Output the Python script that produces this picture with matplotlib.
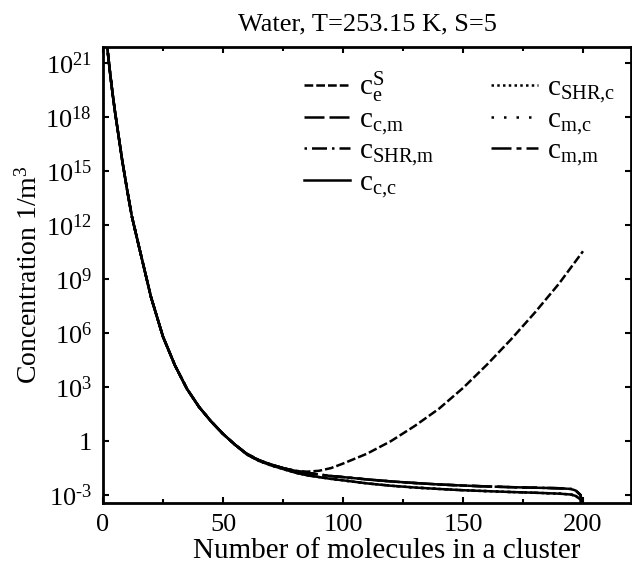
import matplotlib
matplotlib.use("Agg")
import matplotlib.pyplot as plt
import numpy as np
from matplotlib.ticker import FixedLocator, MultipleLocator, FixedFormatter

plt.rcParams['font.family'] = ['Liberation Serif', 'DejaVu Serif']
plt.rcParams['mathtext.fontset'] = 'custom'
plt.rcParams['mathtext.rm'] = 'Liberation Serif'
plt.rcParams['mathtext.it'] = 'Liberation Serif:italic'
plt.rcParams['mathtext.bf'] = 'Liberation Serif:bold'

# ---- data (log10 of concentration) ----
# shared part of all distributions (small clusters)
n_common = [1, 2, 3, 4, 5, 6, 8, 10, 12, 15, 20, 25, 30, 35, 40, 45, 50, 55]
log_common = [23.5, 21.6, 20.4, 19.3, 18.3, 17.4, 15.6, 14.0, 12.5, 10.8,
              8.0, 5.8, 4.2, 2.9, 1.9, 1.1, 0.4, -0.2]

# equilibrium distribution tail
n_eq = [60, 65, 70, 75, 80, 85, 90, 95, 100, 110, 120, 130, 140, 150,
        160, 170, 180, 190, 200]
log_ce = [-0.7, -1.05, -1.3, -1.5, -1.65, -1.7, -1.65, -1.5, -1.25, -0.7,
          0.0, 0.85, 1.8, 2.95, 4.25, 5.65, 7.15, 8.75, 10.55]

# steady-state distributions tail
n_ss = [60, 65, 70, 75, 80, 85, 90, 95, 100, 110, 120, 130, 140, 150,
        160, 170, 180, 190, 195, 197, 199, 200]
log_c_cm = [-0.72, -1.07, -1.3, -1.5, -1.65, -1.76, -1.86, -1.94, -2.0, -2.13,
            -2.24, -2.33, -2.41, -2.47, -2.52, -2.56, -2.59, -2.62, -2.66,
            -2.75, -3.0, -4.0]
log_c_shrm = [-0.72, -1.07, -1.3, -1.5, -1.65, -1.76, -1.86, -1.94, -2.0, -2.13,
              -2.24, -2.33, -2.41, -2.47, -2.52, -2.56, -2.59, -2.62, -2.66,
              -2.75, -3.0, -4.0]
log_c_mm = [-0.72, -1.07, -1.3, -1.5, -1.65, -1.76, -1.86, -1.94, -2.0, -2.13,
            -2.24, -2.33, -2.41, -2.47, -2.52, -2.56, -2.59, -2.62, -2.66,
            -2.75, -3.0, -4.0]
log_c_cc = [-0.75, -1.1, -1.35, -1.55, -1.75, -1.9, -2.0, -2.1, -2.18, -2.35,
            -2.48, -2.58, -2.66, -2.73, -2.78, -2.83, -2.87, -2.92, -2.97,
            -3.05, -3.25, -4.0]
log_c_shrc = [-0.75, -1.1, -1.35, -1.55, -1.75, -1.9, -2.0, -2.1, -2.18, -2.35,
              -2.48, -2.58, -2.66, -2.73, -2.78, -2.83, -2.87, -2.92, -2.97,
              -3.05, -3.25, -4.0]
log_c_mc = [-0.75, -1.1, -1.35, -1.55, -1.75, -1.9, -2.0, -2.1, -2.18, -2.35,
            -2.48, -2.58, -2.66, -2.73, -2.78, -2.83, -2.87, -2.92, -2.97,
            -3.05, -3.25, -4.0]

labels = [r'$\mathrm{c}_\mathrm{e}^\mathrm{S}$', r'$\mathrm{c}_\mathrm{c{,}m}$',
          r'$\mathrm{c}_\mathrm{SHR{,}m}$', r'$\mathrm{c}_\mathrm{c{,}c}$',
          r'$\mathrm{c}_\mathrm{SHR{,}c}$', r'$\mathrm{c}_\mathrm{m{,}c}$',
          r'$\mathrm{c}_\mathrm{m{,}m}$']

ytick_exp = [-3, 0, 3, 6, 9, 12, 15, 18, 21]
ytick_labels = [r'$10^{\text{-}3}$', '1', r'$10^{3}$', r'$10^{6}$', r'$10^{9}$',
                r'$10^{12}$', r'$10^{15}$', r'$10^{18}$', r'$10^{21}$']
xticks = [0, 50, 100, 150, 200]

# ---- figure ----
fig = plt.figure(figsize=(6.32, 5.64), dpi=100)
ax = fig.add_axes([103/632, 1-503/564, 528/632, 456/564])

lw = 1.8
series = [
    (n_eq, log_ce, dict(dashes=(3.5, 1.2))),
    (n_ss, log_c_cm, dict(dashes=(8, 2))),
    (n_ss, log_c_shrm, dict(dashes=(1, 2, 6, 2))),
    (n_ss, log_c_cc, dict(linestyle='-')),
    (n_ss, log_c_shrc, dict(dashes=(1, 1.3))),
    (n_ss, log_c_mc, dict(dashes=(1, 4))),
    (n_ss, log_c_mm, dict(dashes=(8, 2, 2, 2))),
]
for (nt, lt, st), lab in zip(series, labels):
    n_all = np.array(n_common + nt, dtype=float)
    y_all = 10.0 ** np.array(log_common + lt, dtype=float)
    ax.plot(n_all, y_all, color='black', lw=lw, label=lab, **st)

ax.set_yscale('log')
ax.set_xlim(0, 220)
ax.set_ylim(10**-3.44, 10**21.9)
ax.yaxis.set_major_locator(FixedLocator([10.0**e for e in ytick_exp]))
ax.yaxis.set_major_formatter(FixedFormatter(ytick_labels))
ax.yaxis.set_minor_locator(FixedLocator([]))
ax.set_xticks(xticks)
ax.xaxis.set_minor_locator(MultipleLocator(25))

ax.tick_params(which='both', direction='in', top=True, right=True,
               labelsize=19, width=1.5, pad=8)
ax.tick_params(which='major', length=4)
ax.tick_params(which='minor', length=3)
for s in ax.spines.values():
    s.set_linewidth(2.0)

ax.set_xlabel('Number of molecules in a cluster', fontsize=21, labelpad=0)
ax.xaxis.set_label_coords(0.538, -0.077)
ax.xaxis.label.set_verticalalignment('top')
ax.set_ylabel(r'Concentration 1/m$^3$', fontsize=20, labelpad=2)
ax.set_title('Water, T=253.15 K, S=5', fontsize=19, pad=12)

leg = ax.legend(ncol=2, loc='upper left', bbox_to_anchor=(0.38, 0.95),
                frameon=False, fontsize=21, handlelength=1.6,
                handletextpad=0.3, columnspacing=1.95, labelspacing=0.05,
                borderpad=0, borderaxespad=0)

fig.savefig('out.png', dpi=100)
